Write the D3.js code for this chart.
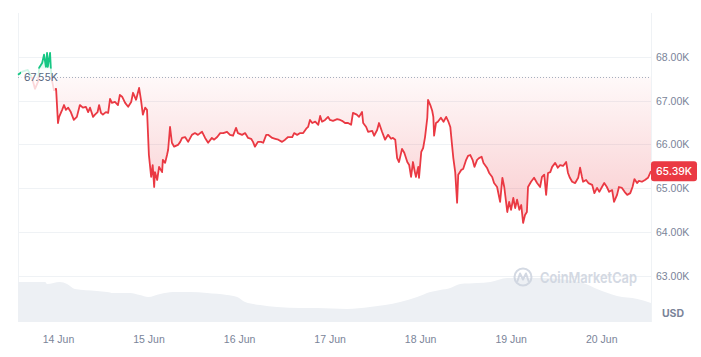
<!DOCTYPE html>
<html>
<head>
<meta charset="utf-8">
<script src="https://cdn.jsdelivr.net/npm/d3@7"></script>
<style>
  body { margin: 0; background: #fff; }
  svg { display: block; font-family: Inter, "Noto Sans", sans-serif; }
</style>
</head>
<body>
<svg id="chart" width="701" height="357"></svg>
<script>
// hours relative to 14 Jun 00:00 (UTC) and BTC price in thousands of USD
const priceHours = [
  -10.6, -9.5, -8.0, -6.9, -6.1, -5.3, -5.0, -4.2, -3.7, -3.2, -2.9, -2.7, -2.1, -1.9, -1.6, -1.1, -0.5,
  0.0, 0.3, 1.1, 1.6, 2.1, 2.7, 3.4, 4.2, 5.0, 5.8, 6.6, 7.4, 8.0, 8.5, 9.3, 9.8, 10.5, 10.9, 11.4, 11.9,
  12.7, 13.3, 13.8, 14.3, 15.1, 15.9, 16.4, 17.0, 17.8, 18.6, 19.4, 19.9, 20.7, 21.5, 22.0, 22.5, 23.1, 23.6,
  24.1, 24.7, 25.1, 25.5, 25.7, 26.3, 26.8, 27.6, 27.8, 28.4, 28.9, 29.2, 29.7, 30.2, 30.8, 31.8, 32.4,
  32.9, 33.7, 34.5, 35.5, 36.3, 37.1, 37.7, 38.2, 39.0, 39.8, 40.8, 41.4, 42.2, 43.0, 43.8, 44.8, 45.6,
  46.4, 47.2, 47.7, 48.8, 49.6, 50.4, 51.2, 51.7, 52.2, 53.0, 53.8, 54.4, 55.2, 55.7, 56.8, 57.6, 58.4,
  59.4, 60.2, 61.0, 62.1, 62.6, 63.4, 64.2, 65.0, 65.8, 66.3, 66.8, 67.4, 68.2, 69.0, 69.5, 70.0, 70.8,
  71.6, 72.1, 72.9, 74.0, 74.8, 75.3, 76.1, 76.9, 77.7, 78.2, 79.2, 79.8, 80.6, 80.9, 81.7, 82.2, 83.3,
  83.8, 84.6, 85.1, 85.9, 86.7, 87.5, 88.3, 88.8, 89.4, 89.9, 90.4, 91.2, 91.8, 92.6, 93.1, 93.6, 94.1,
  94.6, 94.9, 95.5, 95.7, 96.3, 96.8, 97.3, 97.9, 98.1, 98.7, 99.2, 99.5, 99.7, 100.2, 100.7, 101.5, 102.2,
  102.9, 103.5, 104.0, 104.5, 104.8, 105.3, 105.8, 106.1, 106.9, 107.4, 108.2, 108.7, 109.3, 109.9, 110.4,
  111.1, 111.6, 112.3, 112.8, 113.7, 114.3, 115.1, 115.6, 116.4, 117.2, 117.8, 118.3, 119.1, 119.6, 120.1,
  120.7, 121.2, 121.7, 122.3, 122.8, 123.3, 123.8, 124.3, 124.6, 125.4, 126.2, 127.0, 127.8, 128.3, 128.9,
  129.4, 129.9, 130.5, 131.0, 131.8, 132.5, 133.1, 133.9, 134.7, 135.2, 135.7, 136.3, 137.1, 137.9, 138.4,
  138.9, 139.2, 140.0, 140.6, 141.6, 142.2, 142.9, 143.5, 144.2, 144.8, 145.5, 146.1, 146.9, 147.4, 148.2,
  148.7, 149.5, 150.2, 150.9, 151.7, 152.3, 152.8, 153.5, 154.0, 154.8, 155.6, 156.4, 157.2
];
const priceK = [
  67.59, 67.66, 67.70, 67.52, 67.27, 67.43, 67.75, 67.86, 68.05, 67.77, 68.09, 67.77, 68.09, 67.75, 67.47, 67.25, 67.27,
  66.49, 66.63, 66.79, 66.90, 66.79, 66.84, 66.74, 66.56, 66.63, 66.90, 66.84, 66.86, 66.74, 66.84, 66.63, 66.68, 66.74, 66.90, 66.72, 66.68,
  66.74, 66.72, 67.04, 66.95, 66.97, 66.90, 67.13, 67.09, 66.95, 66.86, 66.97, 67.18, 67.02, 67.29, 67.02, 66.68, 66.84, 66.79,
  65.76, 65.26, 65.53, 65.03, 65.37, 65.19, 65.49, 65.37, 65.65, 65.58, 65.76, 65.88, 66.40, 66.04, 65.95, 65.99, 66.06,
  66.15, 66.17, 66.06, 66.22, 66.26, 66.22, 66.26, 66.29, 66.15, 66.04, 66.15, 66.11, 66.17, 66.26, 66.26, 66.29, 66.22,
  66.20, 66.38, 66.26, 66.22, 66.26, 66.15, 66.13, 66.06, 65.95, 66.06, 66.06, 66.04, 66.22, 66.22, 66.15, 66.13, 66.11,
  66.06, 66.11, 66.17, 66.17, 66.26, 66.22, 66.26, 66.26, 66.36, 66.40, 66.56, 66.49, 66.52, 66.45, 66.65, 66.52, 66.56,
  66.63, 66.56, 66.54, 66.58, 66.56, 66.54, 66.49, 66.49, 66.45, 66.72, 66.68, 66.63, 66.74, 66.49, 66.40, 66.29, 66.31,
  66.20, 66.33, 66.49, 66.29, 66.11, 66.22, 66.13, 66.15, 66.11, 65.69, 65.60, 65.90, 65.81, 65.60, 65.53, 65.26, 65.60,
  65.37, 65.26, 65.49, 65.24, 65.83, 65.92, 66.17, 66.61, 67.02, 66.90, 66.77, 66.63, 66.20, 66.49, 66.52, 66.61, 66.52,
  66.63, 66.52, 66.40, 65.95, 65.69, 65.37, 64.67, 65.31, 65.42, 65.44, 65.65, 65.74, 65.76, 65.65, 65.49,
  65.65, 65.69, 65.72, 65.58, 65.47, 65.35, 65.26, 65.12, 65.03, 64.69, 65.24, 65.03, 64.46, 64.69, 64.51,
  64.78, 64.55, 64.74, 64.51, 64.62, 64.21, 64.39, 64.46, 65.03, 65.15, 65.24, 65.12, 65.03, 65.26, 65.31,
  64.85, 65.35, 65.37, 65.49, 65.58, 65.47, 65.53, 65.51, 65.60, 65.35, 65.24, 65.15, 65.12, 65.24, 65.47,
  65.26, 65.15, 65.19, 65.12, 65.08, 64.89, 65.01, 64.92, 65.03, 65.12, 65.03, 64.92, 64.96, 64.69, 64.85,
  65.03, 65.01, 64.92, 64.85, 64.89, 65.03, 65.21, 65.12, 65.17, 65.15, 65.19, 65.24, 65.39
];

// 24h volume, billions of USD
const volumeHours = [-10.6, -3.4, -2.9, 0.5, 2.4, 4.5, 10.3, 13.0, 14.6, 19.1, 21.7, 23.9, 27.1, 30.5, 35.0,
  39.5, 44.8, 47.5, 49.6, 53.6, 58.1, 64.2, 68.7, 76.6, 82.7, 90.7, 95.2, 98.7, 101.3, 104.0, 106.6, 111.1,
  114.6, 119.1, 127.8, 139.2, 142.9, 148.2, 153.6, 157.2];
const volumeB = [40, 40, 38, 40, 38, 33, 31, 30, 29, 29, 27, 25, 28, 30, 30,
  29, 27, 25, 20, 17, 15, 14, 14, 13, 15, 20, 25, 30, 32, 34, 38, 39,
  40, 44, 44, 39, 33, 26, 23, 19];

const yTicks = [63, 64, 65, 66, 67, 68];
const openPrice = 67.55;
const lastPrice = 65.39;

const RED = '#ea3943';
const GREEN = '#16c784';
const GRID = '#eff2f5';
const TEXT = '#7a8499';

const base = Date.UTC(2024, 5, 14);
const toDate = h => new Date(base + h * 3600e3);

const prices = priceHours.map((h, i) => ({ t: toDate(h), v: priceK[i] }));
const volumes = volumeHours.map((h, i) => ({ t: toDate(h), v: volumeB[i] }));

const plotLeft = 18, plotRight = 651, plotTop = 13, plotBottom = 322;

const x = d3.scaleUtc()
  .domain(d3.extent(prices, d => d.t))
  .range([plotLeft, plotRight]);
const y = d3.scaleLinear().domain([61.95, 69]).range([plotBottom, plotTop]);
const yVol = d3.scaleLinear().domain([0, 50]).range([plotBottom, plotBottom - 50]);

const svg = d3.select('#chart');
const defs = svg.append('defs');

const baseY = y(openPrice);

defs.append('clipPath').attr('id', 'below')
  .append('rect').attr('x', 0).attr('y', baseY).attr('width', 701).attr('height', 357 - baseY);
defs.append('clipPath').attr('id', 'above')
  .append('rect').attr('x', 0).attr('y', 0).attr('width', 701).attr('height', baseY);

const redGrad = defs.append('linearGradient').attr('id', 'redFill')
  .attr('gradientUnits', 'userSpaceOnUse')
  .attr('x1', 0).attr('x2', 0).attr('y1', baseY).attr('y2', y(d3.min(priceK)));
redGrad.append('stop').attr('offset', 0).attr('stop-color', RED).attr('stop-opacity', 0.03);
redGrad.append('stop').attr('offset', 1).attr('stop-color', RED).attr('stop-opacity', 0.26);

const greenGrad = defs.append('linearGradient').attr('id', 'greenFill')
  .attr('gradientUnits', 'userSpaceOnUse')
  .attr('x1', 0).attr('x2', 0).attr('y1', y(d3.max(priceK))).attr('y2', baseY);
greenGrad.append('stop').attr('offset', 0).attr('stop-color', GREEN).attr('stop-opacity', 0.2);
greenGrad.append('stop').attr('offset', 1).attr('stop-color', GREEN).attr('stop-opacity', 0.03);

// grid
svg.append('g')
  .selectAll('line')
  .data(yTicks)
  .join('line')
  .attr('x1', plotLeft).attr('x2', plotRight)
  .attr('y1', d => Math.round(y(d)) + 0.5).attr('y2', d => Math.round(y(d)) + 0.5)
  .attr('stroke', GRID);

svg.append('g')
  .selectAll('line')
  .data([plotLeft, plotRight])
  .join('line')
  .attr('x1', d => d + 0.5).attr('x2', d => d + 0.5)
  .attr('y1', plotTop).attr('y2', plotBottom)
  .attr('stroke', GRID);

// volume
svg.append('path')
  .datum(volumes)
  .attr('fill', '#edf0f4')
  .attr('d', d3.area()
    .x(d => x(d.t))
    .y0(plotBottom)
    .y1(d => yVol(d.v))
    .curve(d3.curveMonotoneX));

// watermark
const wm = svg.append('g').attr('opacity', 0.9);
wm.append('circle')
  .attr('cx', 523).attr('cy', 277).attr('r', 8.5)
  .attr('fill', 'none').attr('stroke', '#cfd5e0').attr('stroke-width', 2);
wm.append('path')
  .attr('d', 'M517.5,281 L520,273.5 L523,279.5 L526,273.5 L528.5,281')
  .attr('fill', 'none').attr('stroke', '#cfd5e0').attr('stroke-width', 2)
  .attr('stroke-linejoin', 'round').attr('stroke-linecap', 'round');
wm.append('text')
  .attr('x', 540).attr('y', 283)
  .attr('font-size', 15).attr('font-weight', 600)
  .attr('fill', '#cfd5e0')
  .attr('textLength', 97).attr('lengthAdjust', 'spacingAndGlyphs')
  .text('CoinMarketCap');

// price areas
const area = d3.area().x(d => x(d.t)).y0(baseY).y1(d => y(d.v));
svg.append('path').datum(prices)
  .attr('fill', 'url(#redFill)').attr('clip-path', 'url(#below)').attr('d', area);
svg.append('path').datum(prices)
  .attr('fill', 'url(#greenFill)').attr('clip-path', 'url(#above)').attr('d', area);

// dotted open line
svg.append('line')
  .attr('x1', plotLeft).attr('x2', plotRight)
  .attr('y1', Math.round(baseY) + 0.5).attr('y2', Math.round(baseY) + 0.5)
  .attr('stroke', '#a6afbf').attr('stroke-dasharray', '1 2');

// price lines
const line = d3.line().x(d => x(d.t)).y(d => y(d.v));
svg.append('path').datum(prices)
  .attr('fill', 'none').attr('stroke', RED).attr('stroke-width', 1.8)
  .attr('stroke-linejoin', 'round')
  .attr('clip-path', 'url(#below)').attr('d', line);
svg.append('path').datum(prices)
  .attr('fill', 'none').attr('stroke', GREEN).attr('stroke-width', 1.8)
  .attr('stroke-linejoin', 'round')
  .attr('clip-path', 'url(#above)').attr('d', line);

// open price tag (semi-opaque box fades the line behind it)
svg.append('rect')
  .attr('x', 21).attr('y', baseY - 8).attr('width', 34).attr('height', 22)
  .attr('fill', '#fff').attr('opacity', 0.8);
svg.append('text')
  .attr('x', 24).attr('y', baseY + 1).attr('dy', '0.35em')
  .attr('font-size', 10.5).attr('fill', '#58667e')
  .text(d3.format('.2f')(openPrice) + 'K');

// y axis
const yAxis = svg.append('g')
  .attr('transform', `translate(${plotRight},0)`)
  .call(d3.axisRight(y).tickValues(yTicks).tickSize(0).tickPadding(5)
    .tickFormat(d => d3.format('.2f')(d) + 'K'));
yAxis.select('.domain').remove();
yAxis.selectAll('text').attr('fill', TEXT).attr('font-size', 10.5).attr('font-family', null);

svg.append('text')
  .attr('x', 673).attr('y', 317)
  .attr('text-anchor', 'middle')
  .attr('font-size', 10.5).attr('font-weight', 700).attr('fill', TEXT)
  .text('USD');

// last price tag
const lastY = y(lastPrice);
svg.append('rect')
  .attr('x', plotRight).attr('y', lastY - 10).attr('width', 46).attr('height', 20)
  .attr('rx', 3).attr('fill', RED);
svg.append('text')
  .attr('x', plotRight + 23).attr('y', lastY).attr('dy', '0.35em')
  .attr('text-anchor', 'middle')
  .attr('font-size', 10.5).attr('font-weight', 500).attr('fill', '#fff')
  .text(d3.format('.2f')(lastPrice) + 'K');

// x axis
const xAxis = svg.append('g')
  .attr('transform', `translate(0,${plotBottom})`)
  .call(d3.axisBottom(x).ticks(d3.utcDay.every(1)).tickSize(0).tickPadding(14)
    .tickFormat(d3.utcFormat('%-d %b')));
xAxis.select('.domain').remove();
xAxis.selectAll('text').attr('fill', TEXT).attr('font-size', 10.5).attr('font-family', null);
</script>
</body>
</html>
